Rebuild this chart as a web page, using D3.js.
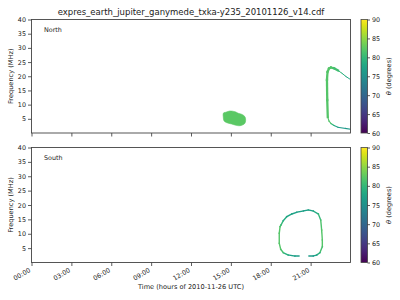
<!DOCTYPE html>
<html><head><meta charset="utf-8">
<script src="https://cdn.jsdelivr.net/npm/d3@7"></script>
<style>
html,body{margin:0;padding:0;background:#fff;}
svg text{font-family:"DejaVu Sans",sans-serif;fill:#222;}
</style></head>
<body><svg id="c" width="400" height="300"></svg>
<script>
// ---------- data ----------
const title = "expres_earth_jupiter_ganymede_txka-y235_20101126_v14.cdf";
const xTickHours = [0, 3, 6, 9, 12, 15, 18, 21];
const xTickLabels = ["00:00","03:00","06:00","09:00","12:00","15:00","18:00","21:00"];
const yTicks = [5, 10, 15, 20, 25, 30, 35, 40];
const cbTicks = [60, 65, 70, 75, 80, 85, 90];
const panels = ["North", "South"];

// North: low-frequency blob (outline, hours / MHz), theta
const northBlobT = [14.43,14.61,14.93,15.31,15.56,15.81,16.06,16.11,16.01,15.69,15.39,15.06,14.69,14.48,14.43];
const northBlobF = [6.94,7.30,7.75,7.51,6.94,6.59,5.74,4.33,3.17,2.57,2.71,3.17,3.63,4.33,5.64];
const northBlobTheta = 82.3;

// North: arc, broadband part
const northBandT = [22.29,22.25,22.23,22.27,22.38,22.53,22.76,23.06];
const northBandF = [5.64,11.63,18.68,21.50,22.73,23.08,22.80,22.03];
const northBandTheta = [82,82,82,82,82,82,81.5,80.5];
// North: arc, upper narrow tail
const northUpperT = [23.06,23.36,23.66,24.0];
const northUpperF = [22.03,21.04,19.90,18.85];
const northUpperTheta = [80.5,79.5,78.5,77.5];
// North: arc, lower narrow tail
const northLowerT = [24.0,23.63,23.06,22.76,22.53,22.38,22.29];
const northLowerF = [1.35,1.59,2.01,2.64,3.35,4.23,5.64];
const northLowerTheta = [76,76,76.5,78,81.5,82,82];

// South: closed arc
const southT = [20.12,19.82,19.32,18.94,18.75,18.64,18.64,18.70,18.77,18.94,19.20,19.58,19.95,20.45,20.82,21.20,21.58,21.76,21.83,21.88,21.88,21.70,21.46,21.20,20.88];
const southF = [2.26,2.26,2.61,3.41,4.59,6.68,10.16,12.45,13.04,14.54,15.93,16.87,17.46,17.91,18.26,17.91,16.87,14.78,11.30,7.83,5.50,3.41,2.61,2.26,2.26];
const southTheta = [76.5,76.5,77.5,80.5,82,82,82,82,81,79,78,77.5,77,77,77,77.5,79,81,82,82,82,80.5,77.5,76.5,76.5];

// ---------- layout ----------
const svg = d3.select("#c");
const L = 31.5, R = 350.5;
const panelY = [[19.5, 133], [147.5, 262.5]];
const cbX = 361, cbW = 6.5;

const x = d3.scaleLinear().domain([0, 24]).range([L, R]);
const color = d3.scaleSequential(d3.interpolateViridis).domain([60, 90]);

// gradient
const defs = svg.append("defs");
const grad = defs.append("linearGradient").attr("id","vir").attr("x1",0).attr("y1",1).attr("x2",0).attr("y2",0);
d3.range(0, 1.0001, 0.05).forEach(s => grad.append("stop").attr("offset", s).attr("stop-color", d3.interpolateViridis(s)));

svg.append("text").attr("x", (L+R)/2).attr("y", 14.5).attr("text-anchor","middle")
  .style("font-size","8.5px").text(title);

function drawSeg(g, y, T, F, TH, w) {
  for (let i = 0; i < T.length - 1; i++) {
    g.append("line")
      .attr("x1", x(T[i])).attr("y1", y(F[i]))
      .attr("x2", x(T[i+1])).attr("y2", y(F[i+1]))
      .attr("stroke", color((TH[i] + TH[i+1]) / 2))
      .attr("stroke-width", w).attr("stroke-linecap","square");
  }
}

panels.forEach((name, pi) => {
  const [top, bot] = panelY[pi];
  const y = d3.scaleLinear().domain([0, 40]).range([bot, top]);
  const g = svg.append("g");

  const clipId = "clip" + pi;
  defs.append("clipPath").attr("id", clipId).append("rect")
    .attr("x", L).attr("y", top).attr("width", R - L).attr("height", bot - top);
  const dg = g.append("g").attr("clip-path", `url(#${clipId})`);

  if (pi === 0) {
    const pts = northBlobT.map((t, i) => [x(t), y(northBlobF[i])]);
    dg.append("path").attr("d", d3.line().curve(d3.curveCardinalClosed)(pts))
      .attr("fill", color(northBlobTheta)).attr("stroke", color(northBlobTheta)).attr("stroke-width", 0.6);
    drawSeg(dg, y, northBandT, northBandF, northBandTheta, 2.3);
    drawSeg(dg, y, northUpperT, northUpperF, northUpperTheta, 1.0);
    drawSeg(dg, y, northLowerT, northLowerF, northLowerTheta, 1.1);
  } else {
    drawSeg(dg, y, southT, southF, southTheta, 1.4);
  }

  // axes
  const ya = g.append("g").attr("transform", `translate(${L},0)`)
    .call(d3.axisLeft(y).tickValues(yTicks).tickSize(3.5).tickPadding(2));
  const xa = g.append("g").attr("transform", `translate(0,${bot})`)
    .call(d3.axisBottom(x).tickValues(xTickHours).tickSize(3.5).tickPadding(2)
      .tickFormat((d, i) => pi === 1 ? xTickLabels[i] : ""));
  [ya, xa].forEach(a => {
    a.select(".domain").remove();
    a.selectAll("line").attr("stroke", "#333").attr("stroke-width", 0.8);
    a.selectAll("text").style("font-size", "6.4px").attr("fill", "#222");
  });
  if (pi === 1) {
    xa.selectAll("text").attr("text-anchor", "end")
      .attr("dy", null).attr("y", 0)
      .attr("transform", "translate(-1,9) rotate(-30)");
  }

  g.append("rect").attr("x", L).attr("y", top).attr("width", R - L).attr("height", bot - top)
    .attr("fill","none").attr("stroke","#444").attr("stroke-width", 0.9);

  g.append("text").attr("x", 44).attr("y", top + 12).style("font-size","6.4px").text(name);

  g.append("text").attr("transform", `translate(12.5,${(top+bot)/2}) rotate(-90)`)
    .attr("text-anchor","middle").style("font-size","6.6px").text("Frequency (MHz)");

  // colorbar
  const cy = d3.scaleLinear().domain([60, 90]).range([bot, top]);
  g.append("rect").attr("x", cbX).attr("y", top).attr("width", cbW).attr("height", bot - top)
    .attr("fill", "url(#vir)").attr("stroke", "#444").attr("stroke-width", 0.8);
  const ca = g.append("g").attr("transform", `translate(${cbX + cbW},0)`)
    .call(d3.axisRight(cy).tickValues(cbTicks).tickSize(2.5).tickPadding(2));
  ca.select(".domain").remove();
  ca.selectAll("line").attr("stroke","#333").attr("stroke-width",0.8);
  ca.selectAll("text").style("font-size","6.4px").attr("fill","#222");
  const lab = g.append("text").attr("transform", `translate(390.5,${(top+bot)/2}) rotate(-90)`)
    .attr("text-anchor","middle").style("font-size","6.6px");
  lab.append("tspan").style("font-style","italic").text("θ");
  lab.append("tspan").text(" (degrees)");
});

svg.append("text").attr("x", (L+R)/2).attr("y", 289).attr("text-anchor","middle")
  .style("font-size","6.6px").text("Time (hours of 2010-11-26 UTC)");
</script></body></html>
